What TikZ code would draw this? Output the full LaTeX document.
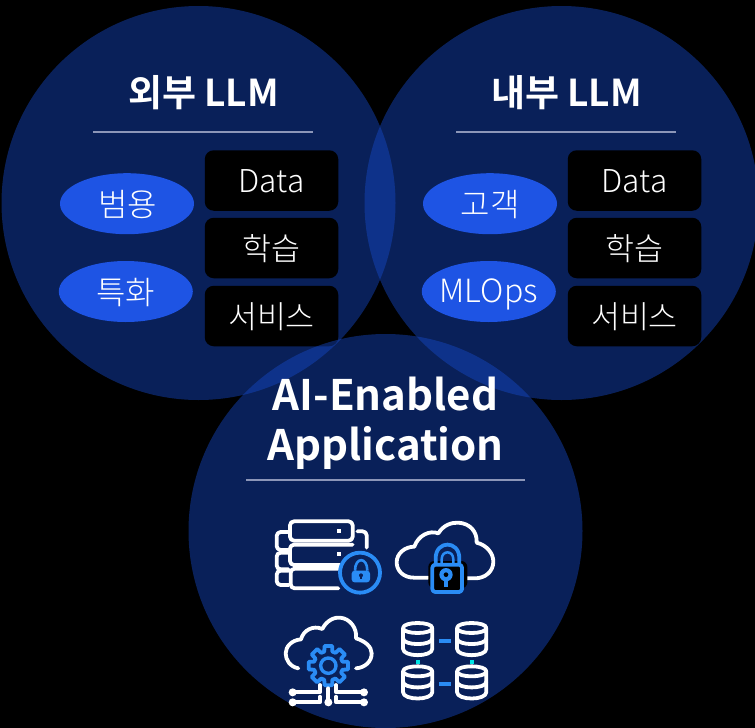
\documentclass[tikz,border=0pt]{standalone}
\usepackage{fontspec}
\setmainfont{Noto Sans CJK KR}[BoldFont={Noto Sans CJK KR Bold}]
\newfontfamily\lightkr{Noto Sans CJK KR Light}
\definecolor{circ}{HTML}{1649C6}
\definecolor{pill}{HTML}{1E54E4}
\definecolor{rulec}{HTML}{8C96B8}
\definecolor{icoblue}{HTML}{2A8CF5}
\definecolor{navy}{HTML}{0A2159}
\definecolor{icocyan}{HTML}{00E5E5}
\usetikzlibrary{shapes.geometric}
\tikzset{
  bigcirc/.style={fill=circ,fill opacity=0.45},
  pillnode/.style={ellipse,fill=pill,inner sep=0pt,minimum width=134pt,minimum height=61pt},
  pilltext/.style={text=white,inner sep=0pt,font=\lightkr\fontsize{32}{36}\selectfont},
  boxnode/.style={rectangle,rounded corners=9pt,fill=black,inner sep=0pt,minimum width=133.5pt,minimum height=60.5pt},
  boxtext/.style={text=white,inner sep=0pt,font=\lightkr\fontsize{31.5}{36}\selectfont},
  titlenode/.style={text=white,inner sep=0pt,font=\fontsize{37}{40}\bfseries\selectfont},
  bigtitle/.style={text=white,inner sep=0pt,font=\fontsize{42}{46}\bfseries\selectfont},
  rulenode/.style={draw=rulec,line width=1.6pt},
  wline/.style={draw=white,line width=3.8pt,line cap=round,line join=round},
  bline/.style={draw=icoblue,line width=3.8pt,line join=round},
  iconzoom/.style={scale=0.33333},
}
\begin{document}
\begin{tikzpicture}[x=1pt,y=-1pt]
\useasboundingbox (0,0) rectangle (755,728);
\fill[black] (0,0) rectangle (755,728);
% upper circles
\fill[bigcirc] (198.5,203) circle (197);
\fill[bigcirc] (561.5,203) circle (197);
% boxes
\node[boxnode] (ld) at (271.5,180.5) {};
\node[boxtext] (ldt) at ([yshift=-1pt]ld.center) {Data};
\node[boxnode] (ll) at (271.5,248) {};
\node[boxtext] (llt) at ([yshift=-1pt]ll.center) {학습};
\node[boxnode] (ls) at (271.5,316) {};
\node[boxtext] (lst) at ([yshift=-1pt]ls.center) {서비스};
\node[boxnode] (rd) at (634.5,180.5) {};
\node[boxtext] (rdt) at ([yshift=-1pt]rd.center) {Data};
\node[boxnode] (rl) at (634.5,248) {};
\node[boxtext] (rlt) at ([yshift=-1pt]rl.center) {학습};
\node[boxnode] (rs) at (634.5,316) {};
\node[boxtext] (rst) at ([yshift=-1pt]rs.center) {서비스};
% lower circle
\fill[bigcirc] (385.5,531) circle (197);
% pills
\node[pillnode] (p1) at (127,203.7) {};
\node[pilltext] (p1t) at ([yshift=-0.5pt,xshift=0.5pt]p1.center) {범용};
\node[pillnode] (p2) at (125.8,291.5) {};
\node[pilltext] (p2t) at ([yshift=-1pt]p2.center) {특화};
\node[pillnode] (p3) at (490,203.7) {};
\node[pilltext] (p3t) at ([yshift=-0.5pt]p3.center) {고객};
\node[pillnode] (p4) at (488.8,291.5) {};
\node[pilltext] (p4t) at ([yshift=-3pt]p4.center) {MLOps};
% titles
\node[titlenode] (t1) at (203.5,92.5) {외부 LLM};
\node[titlenode] (t2) at (566.5,92.5) {내부 LLM};
\node[bigtitle] (t3a) at (385.5,394) {AI-Enabled};
\node[bigtitle] (t3b) at (385.5,448) {Application};
\coordinate (r1a) at (93,132); \coordinate (r1b) at (313,132);
\coordinate (r2a) at (456,132); \coordinate (r2b) at (676,132);
\coordinate (r3a) at (246,480); \coordinate (r3b) at (525,480);
\draw[rulenode] (r1a) -- (r1b);
\draw[rulenode] (r2a) -- (r2b);
\draw[rulenode] (r3a) -- (r3b);
% icons row 1
\begin{scope}[shift={(260,500)},iconzoom]
  % server
  \draw[wline,rounded corners=4pt] (90,64) rectangle (278,122);
  \draw[wline,rounded corners=4pt] (240,195) -- (90,195) -- (90,134) -- (278,134);
  \draw[wline,rounded corners=4pt] (235,206) -- (92,206) -- (92,265) -- (235,265);
  \draw[wline,rounded corners=4pt] (86,96) -- (50,96) -- (50,150) -- (86,150);
  \draw[wline,rounded corners=4pt] (86,158) -- (50,158) -- (50,208) -- (86,208);
  \draw[wline,rounded corners=4pt] (86,212) -- (50,212) -- (50,255) -- (86,255);
  \draw[wline,rounded corners=4pt] (292,94) -- (320,94) -- (320,143);
  \fill[white] (232,87) rectangle (242,98);
  \fill[white] (232,157) rectangle (242,168);
  \draw[bline,fill=navy] (300,218) circle (60pt);
  \fill[icoblue,rounded corners=3pt] (275,212) rectangle (330,247);
  \draw[icoblue,line width=2.6pt] (285,212) .. controls (285,170) and (322,170) .. (322,212);
  \fill[navy] (303,226) circle (6pt);
  \fill[navy] (300,226) rectangle (306,238);
  % cloud with lock
  \draw[wline] (505,233) -- (462,233) .. controls (430,233) and (410,212) .. (410,187) .. controls (410,160) and (435,140) .. (463,140) .. controls (475,105) and (510,90) .. (535,100) .. controls (550,75) and (575,67) .. (595,68) .. controls (630,70) and (652,95) .. (650,128) .. controls (680,135) and (700,160) .. (700,185) .. controls (700,215) and (675,235) .. (645,235) -- (620,235);
  \fill[black,rounded corners=6pt] (505,183) rectangle (622,265);
  \draw[bline] (527,192) -- (527,175) .. controls (527,120) and (598,120) .. (598,175) -- (598,192);
  \draw[bline,line width=2.5pt] (545,192) -- (545,178) .. controls (545,150) and (580,150) .. (580,178) -- (580,192);
  \draw[bline,fill=black,rounded corners=3pt] (517,194) rectangle (606,276);
  \fill[icoblue] (558,224) circle (20pt);
  \fill[icoblue] (551,224) rectangle (565,262);
  \fill[black] (558,224) circle (7pt);
\end{scope}
% icons row 2
\begin{scope}[shift={(270,605)},iconzoom]
  % cloud
  \draw[wline] (85,190) .. controls (60,185) and (47,165) .. (47,145) .. controls (47,125) and (65,105) .. (93,103) .. controls (100,75) and (130,60) .. (157,72) .. controls (170,45) and (195,36) .. (210,38) .. controls (240,40) and (262,70) .. (258,100) .. controls (285,108) and (305,125) .. (305,145) .. controls (305,170) and (285,188) .. (258,190);
  % gear
  \begin{scope}[shift={(175,182)}]
    \draw[bline,fill=navy] (-11:60) \foreach \a in {0,45,...,315} { -- (\a-11:60) -- (\a+11:60) -- (\a+16:44) -- (\a+29:44) } -- cycle;
    \draw[icoblue,line width=3.4pt] (0,0) circle (23pt);
  \end{scope}
  % network
  \draw[wline] (68,262) -- (150,262) -- (150,240);
  \draw[wline] (282,262) -- (198,262) -- (198,240);
  \draw[wline] (68,292) -- (150,292) -- (150,275);
  \draw[wline] (282,292) -- (198,292) -- (198,275);
  \draw[wline] (175,250) -- (175,292);
  \foreach \p in {(68,262),(282,262),(68,292),(282,292),(175,292)} \fill[white] \p circle (12pt);
  % databases
  \foreach \cx/\cy in {443/55,605/55,443/185,605/185} {
    \begin{scope}[shift={(\cx,\cy)}]
      \draw[wline] (-44,14) .. controls (-44,-6) and (44,-6) .. (44,14) .. controls (44,34) and (-44,34) .. (-44,14) -- (-44,76) .. controls (-44,102) and (44,102) .. (44,76) -- (44,14);
      \draw[wline] (-44,45) .. controls (-44,68) and (44,68) .. (44,45);
    \end{scope}
  }
  \fill[icoblue] (508,102) rectangle (542,114);
  \fill[icoblue] (508,232) rectangle (542,244);
  \fill[icocyan] (437,164) rectangle (450,177);
  \fill[icocyan] (599,164) rectangle (612,177);
\end{scope}
\end{tikzpicture}
\end{document}
